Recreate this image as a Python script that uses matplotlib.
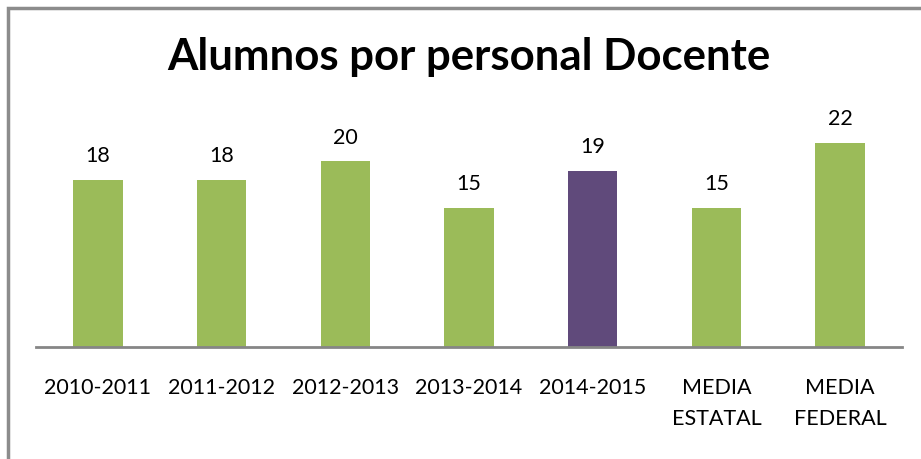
import matplotlib.pyplot as plt
from matplotlib.patches import Rectangle

categorias = ['2010-2011', '2011-2012', '2012-2013', '2013-2014', '2014-2015',
              'MEDIA\nESTATAL', 'MEDIA\nFEDERAL']
valores = [18, 18, 20, 15, 19, 15, 22]
colores = ['#9BBB59', '#9BBB59', '#9BBB59', '#9BBB59', '#604A7B', '#9BBB59', '#9BBB59']

plt.rcParams['font.family'] = ['Lato', 'DejaVu Sans']

fig = plt.figure(figsize=(9.21, 4.59), dpi=100)
ax = fig.add_axes([36 / 921, 1 - 347 / 459, 866 / 921, 232 / 459])

x = range(len(categorias))
ax.bar(x, valores, width=0.4, color=colores)
for xi, v in zip(x, valores):
    ax.annotate(str(v), (xi, v), xytext=(0, 10), textcoords='offset points',
                ha='center', va='bottom', fontsize=15.5)

ax.set_xlim(-0.5, len(categorias) - 0.5)
ax.set_ylim(0, 25)
ax.set_xticks(list(x))
ax.set_xticklabels(categorias, fontsize=15.5, linespacing=1.7)
ax.tick_params(axis='x', length=0, pad=22)
ax.set_yticks([])
for s in ['top', 'right', 'left']:
    ax.spines[s].set_visible(False)
ax.spines['bottom'].set_color('#868686')
ax.spines['bottom'].set_linewidth(2)

fig.text(469 / 921, 1 - 57 / 459, 'Alumnos por personal Docente', ha='center', va='center',
         fontsize=31.5, fontweight='bold')

# borde gris del grafico
fig.patches.append(Rectangle((8 / 921, -0.1), 1.0, 1 - 8 / 459 + 0.1, transform=fig.transFigure,
                             fill=False, edgecolor='#8C8C8C', linewidth=2.5))

fig.savefig('out.png', dpi=100)
